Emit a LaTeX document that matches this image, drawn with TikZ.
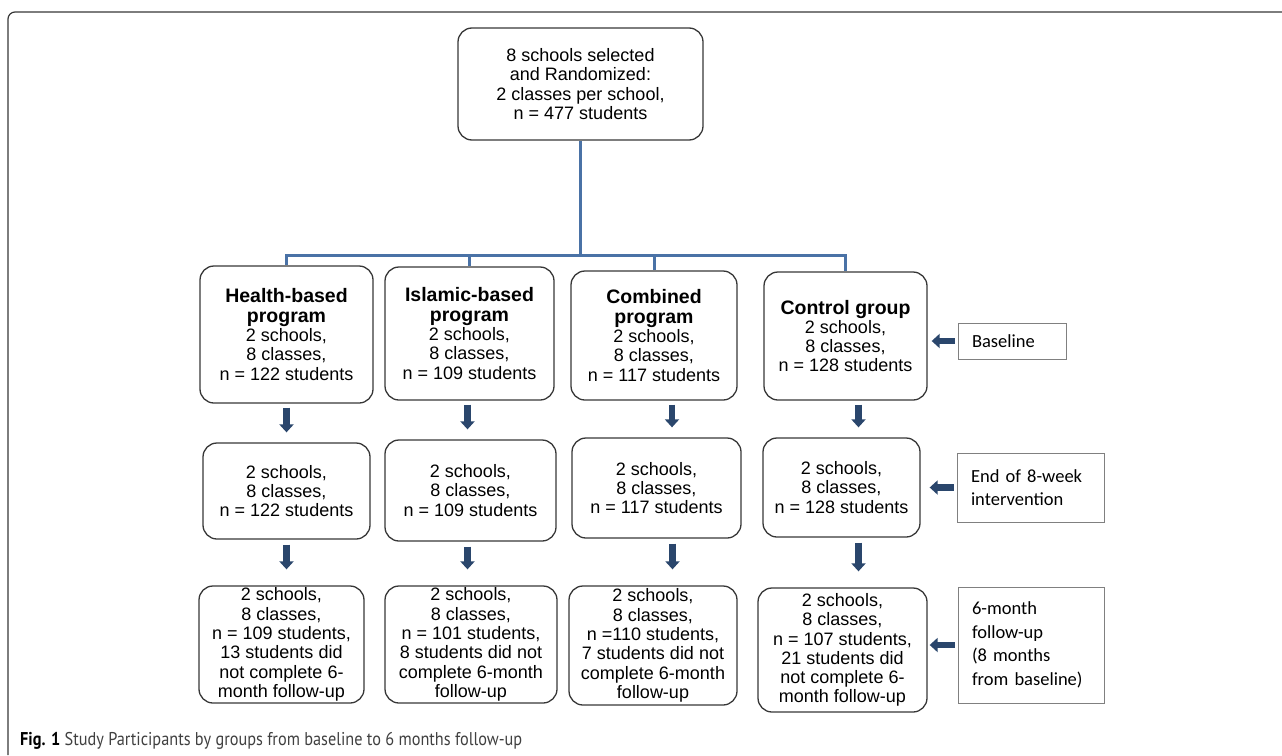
\documentclass[tikz,border=0pt]{standalone}
\usepackage{fontspec}
\setmainfont{Liberation Sans}
\newfontfamily\sidefont{Carlito}
\newfontfamily\capfont[FakeStretch=0.88]{PT Sans}
\usetikzlibrary{arrows.meta}
\definecolor{treeblue}{RGB}{74,114,166}
\definecolor{arrblue}{RGB}{42,70,108}
\definecolor{boxgray}{RGB}{55,55,55}
\newcommand\grptitle[1]{{\fontsize{19.5}{19.3}\selectfont\bfseries #1}}

\begin{document}
\begin{tikzpicture}[x=1pt,y=-1pt,
    grp/.style={draw=boxgray,line width=1.3pt,rounded corners=14pt,align=center,inner sep=0pt,
      font=\fontsize{18}{19.3}\selectfont},
    side/.style={draw=gray,line width=0.9pt,align=left,inner xsep=14pt,inner ysep=0pt,
      font=\sidefont\fontsize{18.5}{23.5}\selectfont},
    tree/.style={treeblue,line width=3pt},
    fatarrow/.style={arrblue,line width=6.5pt,-{Triangle[width=14pt,length=8pt]}}]
    \useasboundingbox (0,0) rectangle (1282,755);
    % frame
    \draw[boxgray,line width=1.2pt,rounded corners=7pt] (8,755) -- (8,12) -- (1282,12);

    \node[grp,minimum width=245pt,minimum height=112pt] (top) at (580.5,84)
        {8 schools selected\\and Randomized:\\2 classes per school,\\n = 477 students};

    % baseline
    \node[grp,minimum width=173pt,minimum height=137pt] (h1) at (286.5,334.5)
        {\grptitle{Health-based}\\\grptitle{program}\\2 schools,\\8 classes,\\n = 122 students};
    \node[grp,minimum width=169pt,minimum height=133pt] (i1) at (469.5,333.5)
        {\grptitle{Islamic-based}\\\grptitle{program}\\2 schools,\\8 classes,\\n = 109 students};
    \node[grp,minimum width=166pt,minimum height=129pt] (c1) at (654,335.5)
        {\grptitle{Combined}\\\grptitle{program}\\2 schools,\\8 classes,\\n = 117 students};
    \node[grp,minimum width=163pt,minimum height=128pt] (k1) at (845.5,336)
        {\grptitle{Control group}\\2 schools,\\8 classes,\\n = 128 students};

    % end of intervention
    \node[grp,minimum width=167pt,minimum height=96pt] (h2) at (286.5,491)
        {2 schools,\\8 classes,\\n = 122 students};
    \node[grp,minimum width=171pt,minimum height=101pt] (i2) at (470.5,490.5)
        {2 schools,\\8 classes,\\n = 109 students};
    \node[grp,minimum width=169pt,minimum height=100pt] (c2) at (656.5,488)
        {2 schools,\\8 classes,\\n = 117 students};
    \node[grp,minimum width=157pt,minimum height=99pt] (k2) at (841.5,487.5)
        {2 schools,\\8 classes,\\n = 128 students};

    % follow-up
    \node[grp,minimum width=165pt,minimum height=117pt] (h3) at (281.5,644.5)
        {2 schools,\\8 classes,\\n = 109 students,\\13 students did\\not complete 6-\\month follow-up};
    \node[grp,minimum width=172pt,minimum height=117pt] (i3) at (471,644.5)
        {2 schools,\\8 classes,\\n = 101 students,\\8 students did not\\complete 6-month\\follow-up};
    \node[grp,minimum width=168pt,minimum height=119pt] (c3) at (653,645.5)
        {2 schools,\\8 classes,\\n =110 students,\\7 students did not\\complete 6-month\\follow-up};
    \node[grp,minimum width=169pt,minimum height=124pt] (k3) at (842.5,650)
        {2 schools,\\8 classes,\\n = 107 students,\\21 students did\\not complete 6-\\month follow-up};

    % time points
    \node[side,text width=80pt,minimum height=36pt] (base) at (1012,341) {Baseline};
    \node[side,text width=119pt,minimum height=69pt] (endw) at (1030.5,487.5) {End of 8-week\\intervention};
    \node[side,text width=118pt,minimum height=116pt] (sixm) at (1031,645)
        {6-month\\follow-up\\(8 months\\from baseline)};

    % randomization tree
    \coordinate (split) at (580.5,255);
    \draw[tree] (top.south) -- (split);
    \foreach \g in {h1,i1,c1,k1}
        \draw[tree] (split) -| (\g.north);

    % arrows down
    \foreach \a/\b/\s in {h1/h2/0,i1/i2/-2,c1/c2/18,k1/k2/13}
        \draw[fatarrow,shorten <=4pt,shorten >=10pt] ([xshift=\s pt]\a.south) -- ([xshift=\s pt]\a.south |- \b.north);
    \foreach \a/\b/\s in {h2/h3/0,i2/i3/-3,c2/c3/16,k2/k3/17}
        \draw[fatarrow,shorten <=5pt,shorten >=16pt] ([xshift=\s pt]\a.south) -- ([xshift=\s pt]\a.south |- \b.north);

    % arrows from the time points
    \foreach \l/\g/\e in {base/k1/4,endw/k2/9,sixm/k3/2}
        \draw[fatarrow,shorten <=3pt,shorten >=\e pt] (\l.west) -- (\l.west -| \g.east);

    \node[anchor=base west,inner sep=0pt,text=black!75,font=\capfont\fontsize{18.5}{20}\selectfont] (cap) at (20,745)
        {\textbf{\color{black}Fig. 1} Study Participants by groups from baseline to 6 months follow-up};
\end{tikzpicture}
\end{document}
